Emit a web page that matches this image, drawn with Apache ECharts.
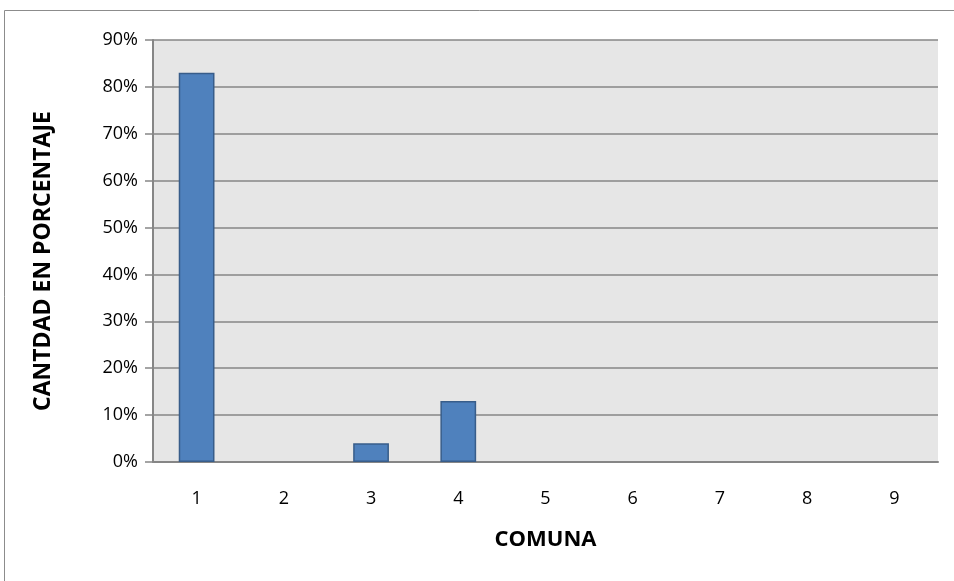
<!DOCTYPE html>
<html>
<head>
<meta charset="utf-8">
<script src="https://cdn.jsdelivr.net/npm/echarts@6/dist/echarts.min.js"></script>
<style>
  html, body { margin: 0; padding: 0; background: #fff; }
  #chart { width: 954px; height: 581px; }
</style>
</head>
<body>
<div id="chart"></div>
<script>
var comunas = ['1', '2', '3', '4', '5', '6', '7', '8', '9'];
var porcentajes = [83, 0, 4, 13, 0, 0, 0, 0, 0];
var yTicks = [0, 10, 20, 30, 40, 50, 60, 70, 80, 90];

// barras con valor 0 no se dibujan (sin borde)
var barData = porcentajes.map(function (v) {
  return v === 0 ? { value: v, itemStyle: { borderWidth: 0, opacity: 0 } } : v;
});

var chart = echarts.init(document.getElementById('chart'));
var option = {
  animation: false,
  textStyle: { fontFamily: 'Open Sans' },
  graphic: [{
    type: 'rect',
    shape: { x: 4.5, y: 10.5, width: 1000, height: 1000 },
    style: { fill: 'none', stroke: '#8c8c8c', lineWidth: 1 },
    silent: true
  }],
  grid: {
    left: 153, right: 16, top: 40, bottom: 119,
    show: true, backgroundColor: '#e6e6e6', borderWidth: 0
  },
  xAxis: {
    type: 'category',
    data: comunas,
    name: 'COMUNA',
    nameLocation: 'middle',
    nameGap: 67,
    nameTextStyle: { fontSize: 22, fontWeight: 'bold', color: '#000' },
    axisLine: { lineStyle: { color: '#868686', width: 2 } },
    axisTick: { show: false },
    axisLabel: { fontSize: 18, color: '#000', margin: 28 }
  },
  yAxis: {
    type: 'value',
    min: yTicks[0],
    max: yTicks[yTicks.length - 1],
    interval: 10,
    name: 'CANTDAD EN PORCENTAJE',
    nameLocation: 'middle',
    nameGap: 98,
    nameTextStyle: { fontSize: 23, fontWeight: 'bold', color: '#000', padding: [0, 20, 0, 0] },
    axisLine: { show: true, lineStyle: { color: '#868686', width: 2 } },
    axisTick: { show: true, length: 8, lineStyle: { color: '#868686', width: 1.5 } },
    axisLabel: { fontSize: 18, color: '#000', margin: 15, formatter: '{value}%' },
    splitLine: { lineStyle: { color: '#868686', width: 1.5 } }
  },
  series: [{
    type: 'bar',
    data: barData,
    barWidth: '41%',
    itemStyle: { color: '#4f81bd', borderColor: '#385d8a', borderWidth: 1.5 }
  }]
};
chart.setOption(option);
</script>
</body>
</html>
